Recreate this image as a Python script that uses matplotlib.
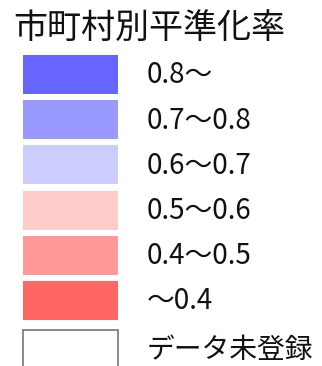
import matplotlib
matplotlib.use("Agg")
import matplotlib.pyplot as plt

plt.rcParams['font.family'] = ['Noto Sans CJK JP', 'DejaVu Sans']

title = "市町村別平準化率"
labels = ["0.8～", "0.7～0.8", "0.6～0.7", "0.5～0.6", "0.4～0.5", "～0.4", "データ未登録"]
colors = ["#6666ff", "#9999ff", "#ccccff", "#ffcccc", "#ff9999", "#ff6666", "#ffffff"]
edges = ["none"] * 6 + ["#777777"]

fig = plt.figure(figsize=(3.22, 3.66), dpi=100)
ax = fig.add_axes([0, 0, 1, 1])

# pixel-ish x scale, row-index y scale
pitch = 45.2
top0 = 74.5
ax.set_xlim(0, 322)
ax.set_ylim((366 - top0) / pitch, -top0 / pitch)
ax.axis("off")

# the "no data" row sits a little further down
rows = [i + (0.08 if i == len(labels) - 1 else 0) for i in range(len(labels))]
ax.barh(rows, 95, left=23, height=39 / pitch, color=colors,
        edgecolor=edges, linewidth=1.2)

for y, lab in zip(rows, labels):
    ax.text(147, y + 0.02, lab, fontsize=20, va="center", ha="left", color="#111111")

ax.text(13, (28 - top0) / pitch, title, fontsize=24.5, va="center", ha="left",
        color="#111111")

fig.savefig("out.png", dpi=100)
